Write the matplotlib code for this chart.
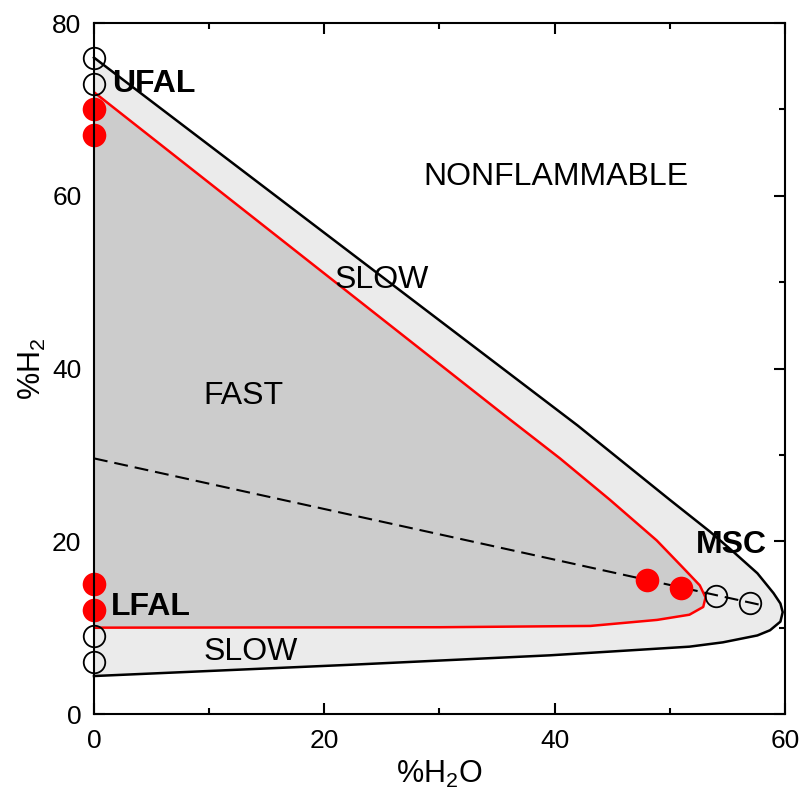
import matplotlib
matplotlib.use("Agg")
import matplotlib.pyplot as plt
from matplotlib.ticker import MultipleLocator

plt.rcParams['font.family'] = ['Liberation Sans', 'DejaVu Sans']
plt.rcParams['mathtext.default'] = 'regular'
plt.rcParams['lines.scale_dashes'] = False

# Outer flammability boundary (black), traversed top -> tip -> bottom
outer_x = [0, 42, 46, 50, 53.5, 55.5, 57.6, 59.0, 59.6, 59.8, 59.6, 58.7, 57.6, 54.6, 51.7, 39.6, 22.2, 0]
outer_y = [76, 33.4, 29.1, 24.8, 21.1, 18.8, 16.3, 14.0, 12.8, 11.8, 10.7, 9.7, 9.1, 8.3, 7.8, 6.8, 5.7, 4.4]

# Fast-flame boundary (red)
fast_x = [0, 35.25, 40.46, 44.8, 48.86, 51.1, 52.6, 53.1, 52.9, 51.7, 48.9, 43.1, 30, 0]
fast_y = [72, 35.0, 29.6, 24.8, 20.1, 17.0, 14.9, 13.5, 12.4, 11.5, 10.9, 10.2, 10.05, 10]

# Dashed line
dash_x = [0, 58]
dash_y = [29.6, 12.6]

# Measured points
open_x = [0, 0, 0, 0, 54, 57]
open_y = [76, 73, 9, 6, 13.7, 12.85]
red_x = [0, 0, 0, 0, 48, 51]
red_y = [70, 67, 15, 12, 15.5, 14.6]

xticks = [0, 20, 40, 60]
yticks = [0, 20, 40, 60, 80]

fig = plt.figure(figsize=(8.03, 7.89), dpi=100)
ax = fig.add_axes([0.117, 0.095, 0.8606, 0.8758])

ax.fill(outer_x, outer_y, facecolor='#ebebeb', edgecolor='none', zorder=1)
ax.plot(outer_x, outer_y, color='black', lw=1.8, zorder=3, clip_on=False,
        solid_joinstyle='round')
ax.fill(fast_x, fast_y, facecolor='#cccccc', edgecolor='none', zorder=2)
ax.plot(fast_x, fast_y, color='red', lw=1.8, zorder=3, solid_joinstyle='round')

ax.plot(dash_x, dash_y, color='black', lw=1.5, dashes=(10, 5), zorder=4)

ax.plot(open_x, open_y, 'o', ms=15.5, mfc='none', mec='black', mew=1.3, zorder=5, clip_on=False)
ax.plot(red_x, red_y, 'o', ms=17, mfc='red', mec='red', mew=0, zorder=5, clip_on=False)

fs = 23
ax.text(1.6, 73, 'UFAL', fontsize=fs, fontweight='bold', ha='left', va='center', zorder=6)
ax.text(1.45, 12.4, 'LFAL', fontsize=fs, fontweight='bold', ha='left', va='center', zorder=6)
ax.text(52.3, 19.6, 'MSC', fontsize=fs, fontweight='bold', ha='left', va='center', zorder=6)
ax.text(40.1, 62.2, 'NONFLAMMABLE', fontsize=fs, ha='center', va='center', zorder=6)
ax.text(25.0, 50.2, 'SLOW', fontsize=fs, ha='center', va='center', zorder=6)
ax.text(13.0, 36.8, 'FAST', fontsize=fs, ha='center', va='center', zorder=6)
ax.text(13.6, 7.2, 'SLOW', fontsize=fs, ha='center', va='center', zorder=6)

ax.set_xlim(0, 60)
ax.set_ylim(0, 80)
ax.set_xticks(xticks)
ax.set_yticks(yticks)
ax.xaxis.set_minor_locator(MultipleLocator(10))
ax.yaxis.set_minor_locator(MultipleLocator(10))
ax.tick_params(which='both', direction='in', top=True, right=True, width=1.5, colors='black')
ax.tick_params(which='major', length=8)
ax.tick_params(which='minor', length=4.5)
ax.tick_params(axis='x', which='major', labelsize=19, pad=11)
ax.tick_params(axis='y', which='major', labelsize=19, pad=9)
for s in ax.spines.values():
    s.set_linewidth(1.5)
    s.set_zorder(7)

ax.set_xlabel('%H$_2$O', fontsize=22, labelpad=4)
ax.set_ylabel('%H$_2$', fontsize=22, labelpad=3)

fig.savefig('out.png', dpi=100)
